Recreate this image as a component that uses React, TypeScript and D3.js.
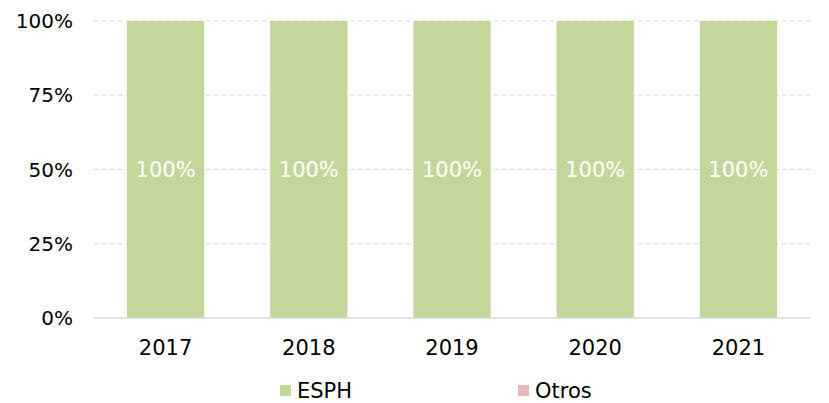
import React from "react";
import * as d3 from "d3";

const categories = ["2017", "2018", "2019", "2020", "2021"];
const esph = [100, 100, 100, 100, 100];
const otros = [0, 0, 0, 0, 0];
const yTicks = [0, 25, 50, 75, 100];
const seriesNames = ["ESPH", "Otros"];
const seriesColors = ["#c4d79b", "#e6b9b8"];

const W = 829, H = 403;
const m = { left: 94, right: 19, top: 21, bottom: 85 };
const font = "'Century Gothic', 'URW Gothic', 'DejaVu Sans', sans-serif";

export default function App() {
  const x = d3.scaleBand().domain(categories).range([m.left, W - m.right]).paddingInner(0.46).paddingOuter(0.23);
  const y = d3.scaleLinear().domain([0, 100]).range([H - m.bottom, m.top]);
  return (
    <svg width={W} height={H} style={{ position: "absolute", left: 0, top: 0 }} fontFamily={font}>
      {yTicks.map((t) => (
        <g key={t}>
          {t > 0 && (
            <line x1={m.left} x2={W - m.right} y1={y(t)} y2={y(t)} stroke="#d9d9d9" strokeWidth={1} strokeDasharray="5,3" />
          )}
          <text x={73} y={y(t)} dy="0.35em" textAnchor="end" fontSize={20} fill="#000">{t}%</text>
        </g>
      ))}
      {categories.map((c, i) => (
        <g key={c}>
          <rect x={x(c)} width={x.bandwidth()} y={y(esph[i])} height={y(0) - y(esph[i])} fill={seriesColors[0]} />
          <rect x={x(c)} width={x.bandwidth()} y={y(esph[i] + otros[i])} height={y(esph[i]) - y(esph[i] + otros[i])} fill={seriesColors[1]} />
          <text x={x(c)! + x.bandwidth() / 2} y={y(esph[i] / 2)} dy="0.35em" textAnchor="middle" fontSize={21} fill="#fff">{esph[i]}%</text>
          <text x={x(c)! + x.bandwidth() / 2} y={348} dy="0.35em" textAnchor="middle" fontSize={21} fill="#000">{c}</text>
        </g>
      ))}
      <line x1={m.left} x2={W - m.right} y1={y(0)} y2={y(0)} stroke="#d9d9d9" strokeWidth={1.5} />
      {seriesNames.map((s, i) => {
        const lx = i === 0 ? 280 : 518;
        return (
          <g key={s}>
            <rect x={lx} y={385} width={11} height={11} fill={seriesColors[i]} />
            <text x={lx + 17} y={391} dy="0.35em" fontSize={21} fill="#000">{s}</text>
          </g>
        );
      })}
    </svg>
  );
}
